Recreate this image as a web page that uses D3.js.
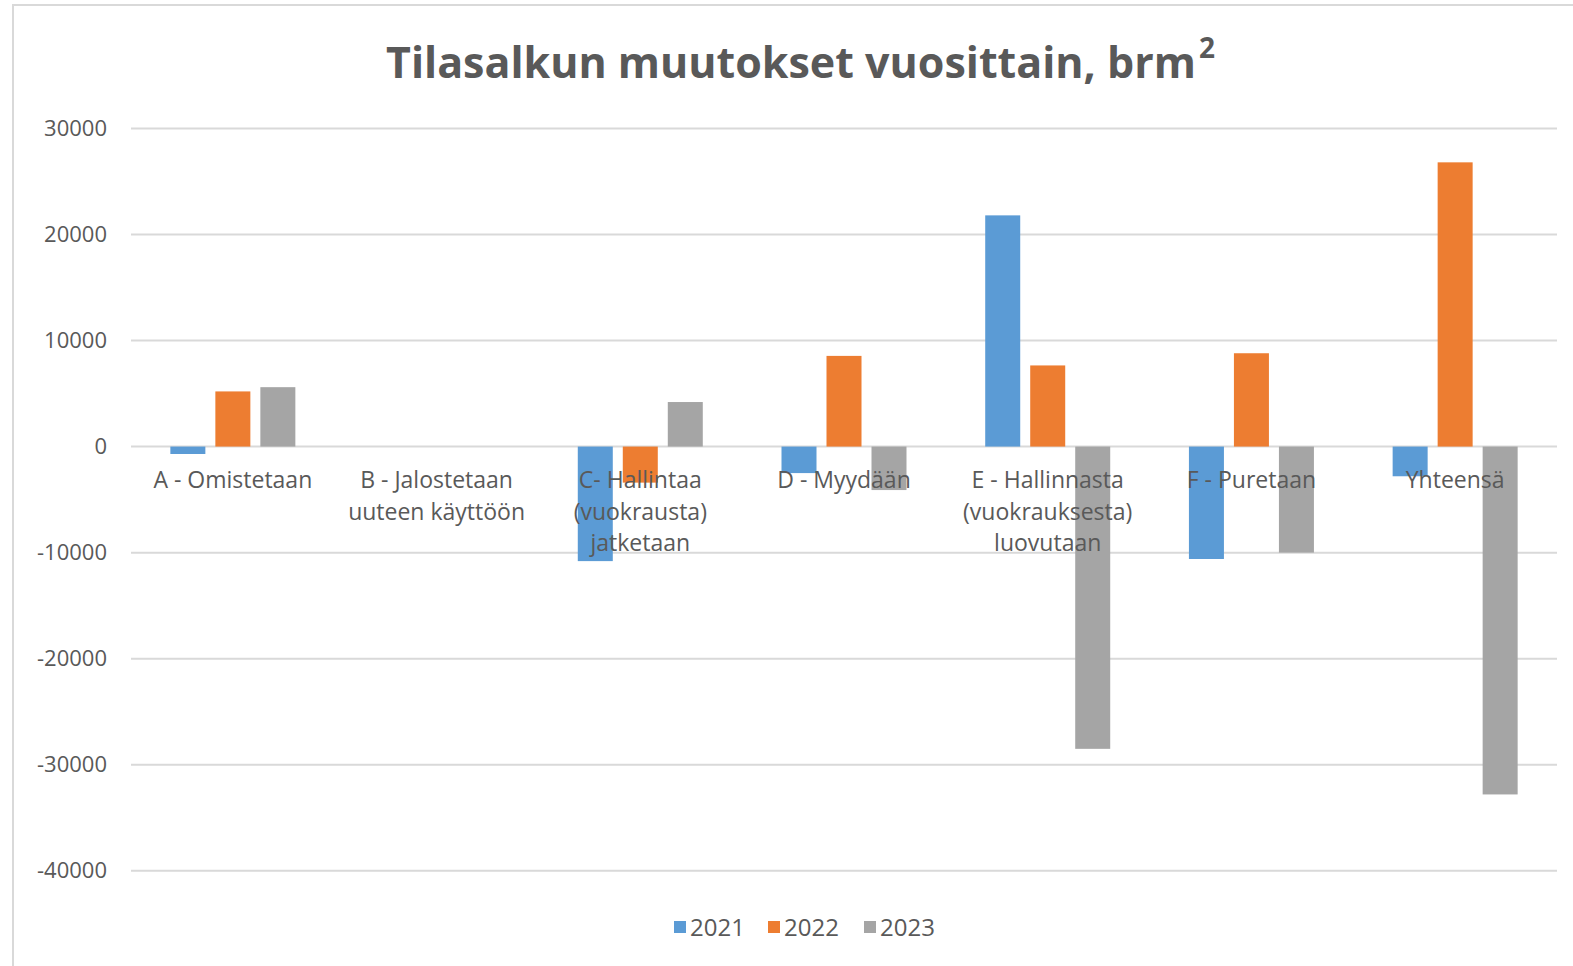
<!DOCTYPE html>
<html>
<head>
<meta charset="utf-8">
<script src="https://cdn.jsdelivr.net/npm/d3@7"></script>
<style>
  html, body { margin: 0; padding: 0; background: #fff; }
  svg { display: block; }
  text { font-family: "Open Sans", "Liberation Sans", sans-serif; fill: #595959; }
</style>
</head>
<body>
<script>
const categories = [
  ["A - Omistetaan"],
  ["B - Jalostetaan", "uuteen käyttöön"],
  ["C- Hallintaa", "(vuokrausta)", "jatketaan"],
  ["D - Myydään"],
  ["E - Hallinnasta", "(vuokrauksesta)", "luovutaan"],
  ["F - Puretaan"],
  ["Yhteensä"]
];
const categoryKeys = ["A", "B", "C", "D", "E", "F", "Y"];
const years = ["2021", "2022", "2023"];
const values2021 = [-700, 0, -10800, -2500, 21800, -10600, -2800];
const values2022 = [5200, 0, -3400, 8550, 7650, 8800, 26800];
const values2023 = [5600, 0, 4200, -4100, -28500, -10000, -32800];
const yTicks = [30000, 20000, 10000, 0, -10000, -20000, -30000, -40000];
const colors = ["#5B9BD5", "#ED7D31", "#A5A5A5"];
const titleText = "Tilasalkun muutokset vuosittain, brm";

const W = 1573, H = 966;
const series = [values2021, values2022, values2023];

const svg = d3.select("body").append("svg").attr("width", W).attr("height", H);

// chart frame
svg.append("path")
  .attr("d", `M13,${H + 5} L13,5 L${W + 5},5`)
  .attr("fill", "none").attr("stroke", "#D9D9D9").attr("stroke-width", 2);

const x0 = d3.scaleBand().domain(categoryKeys).range([131, 1557]).padding(0);
const x1 = d3.scaleBand().domain(years).range([-62.5, 62.5]).paddingInner(10 / 45).paddingOuter(0);
const y = d3.scaleLinear().domain([-40000, 30000]).range([870.8, 128.4]);

// gridlines
svg.append("g").selectAll("line").data(yTicks).join("line")
  .attr("x1", 131).attr("x2", 1557)
  .attr("y1", d => y(d)).attr("y2", d => y(d))
  .attr("stroke", "#D9D9D9").attr("stroke-width", 2);

// y axis labels
const yAxis = d3.axisLeft(y).tickValues(yTicks).tickSize(0).tickPadding(0).tickFormat(d => String(d));
const ya = svg.append("g").attr("transform", "translate(107,0)").call(yAxis);
ya.select(".domain").remove();
ya.selectAll("text").attr("font-size", 22).attr("fill", "#595959")
  .attr("font-family", "'Open Sans', sans-serif");

// bars
const barsG = svg.append("g");
years.forEach((yr, s) => {
  barsG.append("g").attr("fill", colors[s]).selectAll("rect")
    .data(categoryKeys.map((k, i) => ({ k, v: series[s][i] })).filter(d => d.v !== 0))
    .join("rect")
    .attr("x", d => x0(d.k) + x0.bandwidth() / 2 + x1(yr))
    .attr("width", x1.bandwidth())
    .attr("y", d => Math.min(y(d.v), y(0)))
    .attr("height", d => Math.abs(y(d.v) - y(0)));
});

// category labels (drawn over bars)
const labG = svg.append("g");
categoryKeys.forEach((k, i) => {
  const cx = x0(k) + x0.bandwidth() / 2;
  const t = labG.append("text").attr("text-anchor", "middle").attr("font-size", 23);
  categories[i].forEach((line, j) => {
    t.append("tspan").attr("x", cx).attr("y", 488 + j * 31.5).text(line);
  });
});

// title: fit natural width to ~810px
const title = svg.append("text").attr("x", 386).attr("y", 78)
  .attr("font-size", 46).attr("font-weight", 700)
  .text(titleText);
const natural = title.node().getComputedTextLength();
const fs = 46 * 810 / natural;
title.attr("font-size", fs);
const endX = 386 + title.node().getComputedTextLength();
svg.append("text").attr("x", endX + 3).attr("y", 58)
  .attr("font-size", 28).attr("font-weight", 700).text("2");

// legend
const legX = [674, 768, 864];
const leg = svg.append("g");
years.forEach((yr, s) => {
  leg.append("rect").attr("x", legX[s]).attr("y", 921).attr("width", 12).attr("height", 12).attr("fill", colors[s]);
  leg.append("text").attr("x", legX[s] + 16).attr("y", 936).attr("font-size", 24).text(yr);
});
</script>
</body>
</html>
